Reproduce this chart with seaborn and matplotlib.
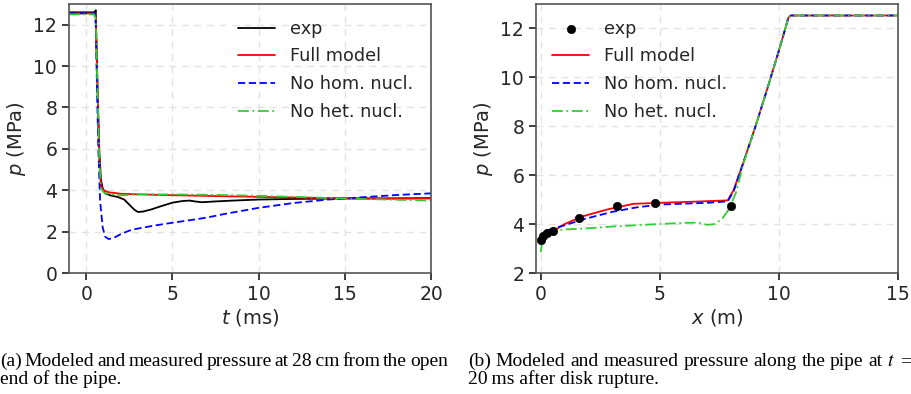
import numpy as np
import pandas as pd
import matplotlib
matplotlib.use("Agg")
import matplotlib.pyplot as plt
import seaborn as sns

# ---------------- data: (a) pressure vs time at 28 cm ----------------
exp_t = [-1, 0.45, 0.52, 0.55, 0.58, 0.65, 0.75, 0.85, 0.95, 1.1, 1.4, 1.8, 2.2, 2.5, 2.8, 3.0,
         3.3, 3.8, 4.3, 5.0, 5.6, 6.0, 6.3, 6.7, 7.5, 8.5, 10, 12, 15, 17.5, 20]
exp_p = [12.6, 12.6, 12.65, 12.7, 11.5, 9.0, 6.0, 4.5, 4.1, 3.85, 3.75, 3.68, 3.55, 3.3, 3.05, 2.95,
         2.97, 3.08, 3.22, 3.4, 3.48, 3.5, 3.46, 3.42, 3.46, 3.5, 3.55, 3.58, 3.6, 3.6, 3.62]

full_t = [-1, 0.5, 0.55, 0.65, 0.75, 0.85, 1.0, 1.3, 2.0, 3.0, 5.0, 8.0, 12, 15, 20]
full_p = [12.55, 12.55, 12.3, 9.0, 5.5, 4.2, 4.0, 3.9, 3.83, 3.8, 3.76, 3.71, 3.65, 3.61, 3.6]

hom_t = [-1, 0.5, 0.55, 0.62, 0.7, 0.8, 0.95, 1.1, 1.3, 1.6, 2.0, 2.5, 3.0, 4.0, 5.0, 6.0, 7.0,
         8.0, 10, 12, 14, 15, 16, 18, 20]
hom_p = [12.55, 12.55, 12.0, 9.0, 6.0, 3.5, 2.2, 1.75, 1.64, 1.7, 1.88, 2.05, 2.15, 2.3, 2.43,
         2.55, 2.68, 2.85, 3.15, 3.38, 3.55, 3.6, 3.66, 3.77, 3.85]

het_t = [-1, 0.45, 0.55, 0.65, 0.75, 0.85, 1.0, 1.3, 1.6, 2.0, 2.5, 3, 5, 8, 10, 12, 15, 17.5, 20]
het_p = [12.5, 12.5, 12.3, 9.0, 5.5, 4.1, 3.9, 3.82, 3.78, 3.75, 3.77, 3.8, 3.8, 3.77, 3.73, 3.68,
         3.6, 3.55, 3.5]

# ---------------- data: (b) pressure along the pipe at t = 20 ms ----------------
exp_x = [0.02, 0.1, 0.28, 0.5, 1.6, 3.2, 4.8, 8.0]
exp_px = [3.35, 3.5, 3.65, 3.72, 4.24, 4.72, 4.88, 4.75]

full_x = [0, 0.1, 0.25, 0.5, 1.0, 1.7, 2.8, 3.9, 5.0, 6.5, 7.85, 8.1, 8.5, 9.0, 9.5, 10.0, 10.4, 10.5, 15]
full_px = [3.2, 3.4, 3.55, 3.7, 4.0, 4.3, 4.6, 4.83, 4.87, 4.92, 4.97, 5.4, 6.5, 7.95, 9.5, 11.1,
           12.45, 12.53, 12.53]

hom_x = [0, 0.05, 0.2, 0.5, 1.0, 1.8, 3.0, 4.0, 5.0, 7.0, 7.85, 8.1, 8.5, 9.0, 9.5, 10.0, 10.4, 10.5, 15]
hom_px = [3.45, 3.6, 3.72, 3.82, 3.95, 4.2, 4.5, 4.68, 4.8, 4.87, 4.93, 5.35, 6.5, 7.95, 9.5, 11.1,
          12.45, 12.53, 12.53]

het_x = [0, 0.05, 0.15, 0.3, 0.6, 1.0, 2.0, 3.0, 4.5, 6.0, 6.6, 7.0, 7.3, 7.6, 7.9, 8.2, 8.5, 9.0,
         9.5, 10.0, 10.4, 10.5, 15]
het_px = [2.85, 3.2, 3.5, 3.65, 3.73, 3.78, 3.83, 3.9, 3.98, 4.05, 4.06, 3.97, 4.0, 4.2, 4.6, 5.3,
          6.45, 7.95, 9.5, 11.1, 12.45, 12.53, 12.53]

labels = ["exp", "Full model", "No hom. nucl.", "No het. nucl."]
caption_a = ["(a) Modeled and measured pressure at 28\u2009cm from the open", "end of the pipe."]
caption_b = ["(b) Modeled and measured pressure along the pipe at $t$ =", "20\u2009ms after disk rupture."]

# ---------------- style ----------------
sns.set_theme(style="ticks", rc={
    "axes.grid": True,
    "grid.linestyle": (0, (5, 4)),
    "grid.color": "#e3e3e3",
    "grid.linewidth": 1.0,
    "axes.edgecolor": "#555555",
    "axes.linewidth": 1.2,
    "xtick.color": "#262626",
    "ytick.color": "#262626",
    "xtick.major.size": 5,
    "ytick.major.size": 5,
    "font.size": 13,
    "axes.labelsize": 14,
    "xtick.labelsize": 13.5,
    "ytick.labelsize": 13.5,
    "legend.fontsize": 12.7,
})
plt.rcParams["font.family"] = ["DejaVu Sans"]

fig = plt.figure(figsize=(9.12, 3.94), dpi=100)
axL = fig.add_axes([0.0757, 0.3071, 0.397, 0.6827])
axR = fig.add_axes([0.5877, 0.3071, 0.397, 0.6827])

lw = 1.3
green = "#33cc33"

sns.lineplot(x=exp_t, y=exp_p, ax=axL, color="black", lw=lw, sort=False, label=labels[0])
sns.lineplot(x=full_t, y=full_p, ax=axL, color="red", lw=lw, sort=False, label=labels[1])
sns.lineplot(x=hom_t, y=hom_p, ax=axL, color="blue", lw=lw, sort=False, label=labels[2],
             linestyle=(0, (4, 2)))
sns.lineplot(x=het_t, y=het_p, ax=axL, color=green, lw=lw, sort=False, label=labels[3],
             linestyle=(0, (6, 2, 1, 2)))

sns.scatterplot(x=exp_x, y=exp_px, ax=axR, color="black", s=36, edgecolor="black", zorder=5,
                label=labels[0])
sns.lineplot(x=full_x, y=full_px, ax=axR, color="red", lw=lw, sort=False, label=labels[1])
sns.lineplot(x=hom_x, y=hom_px, ax=axR, color="blue", lw=lw, sort=False, label=labels[2],
             linestyle=(0, (4, 2)))
sns.lineplot(x=het_x, y=het_px, ax=axR, color=green, lw=lw, sort=False, label=labels[3],
             linestyle=(0, (6, 2, 1, 2)))

axL.set_xlim(-1, 20)
axL.set_ylim(0, 13)
axL.set_xticks([0, 5, 10, 15, 20])
axL.set_yticks([0, 2, 4, 6, 8, 10, 12])
axL.set_xlabel("$t$ (ms)", labelpad=2)
axL.set_ylabel("$p$ (MPa)", labelpad=4)

axR.set_xlim(-0.2, 15)
axR.set_ylim(2, 13)
axR.set_xticks([0, 5, 10, 15])
axR.set_yticks([2, 4, 6, 8, 10, 12])
axR.set_xlabel("$x$ (m)", labelpad=2)
axR.set_ylabel("$p$ (MPa)", labelpad=4)

for ax in (axL, axR):
    for s in ax.spines.values():
        s.set_visible(True)

leg_kw = dict(loc="upper left", frameon=False, handlelength=2.1, handletextpad=0.85,
              labelspacing=0.55, borderaxespad=0)
axL.legend(bbox_to_anchor=(0.447, 0.968), **leg_kw)
axR.legend(bbox_to_anchor=(0.025, 0.968), **leg_kw)

# ---------------- captions (first lines justified) ----------------
cap_kw = dict(fontsize=14, family=["Liberation Serif", "DejaVu Serif"], color="black",
              va="baseline", math_fontfamily="stix")
W, H = 912, 394
renderer = fig.canvas.get_renderer()


def justified(line, x0, x1, ybase):
    words = line.split(" ")
    texts = [fig.text(0, 1 - ybase / H, w, **cap_kw) for w in words]
    widths = [t.get_window_extent(renderer).width for t in texts]
    gap = (x1 - x0 - sum(widths)) / (len(words) - 1)
    x = x0
    for t, w in zip(texts, widths):
        t.set_x(x / W)
        x += w + gap


justified(caption_a[0], 0, 448, 366)
fig.text(0, 1 - 384 / H, caption_a[1], **cap_kw)
justified(caption_b[0], 468, 911, 366)
fig.text(468 / W, 1 - 384 / H, caption_b[1], **cap_kw)

fig.savefig("out.png", dpi=100)
